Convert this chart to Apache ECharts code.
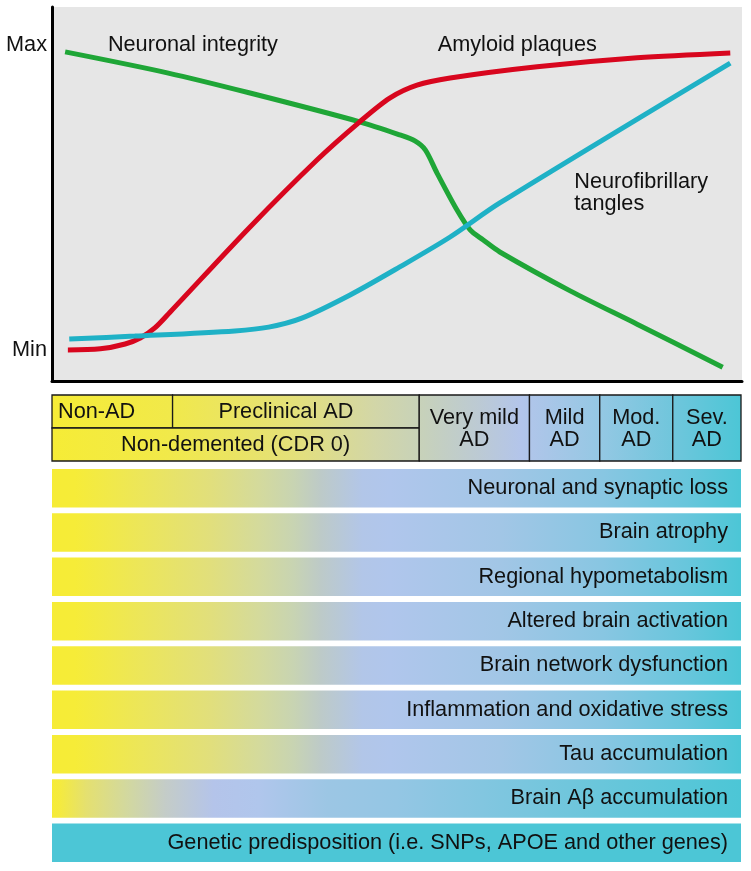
<!DOCTYPE html>
<html><head><meta charset="utf-8">
<script src="https://cdn.jsdelivr.net/npm/echarts@6/dist/echarts.min.js"></script>
<style>html,body{margin:0;padding:0;background:#fff}#c{width:751px;height:871px}</style>
</head><body><div id="c"></div>
<script>
// ---- Curves (x: disease course 0..100, y: Min..Max 0..100)
const neuronalX = [1.9, 16.7, 28.7, 44.6, 50.4, 52.6, 54.1, 55.8, 58.7, 60.6, 62.5, 64.9, 75.1, 84.8, 97.2];
const neuronalY = [88.0, 82.4, 77.0, 69.3, 65.8, 64.2, 61.8, 55.6, 45.7, 40.4, 37.7, 34.5, 24.1, 15.2, 3.7];
const amyloidX = [2.3, 7.0, 10.6, 12.8, 14.9, 17.1, 28.7, 38.4, 44.6, 49.0, 52.9, 57.7, 70.3, 84.8, 98.3];
const amyloidY = [8.3, 8.6, 9.9, 11.5, 14.2, 18.4, 41.2, 59.1, 69.3, 75.7, 79.1, 81.0, 84.0, 86.4, 87.7];
const tanglesX = [2.5, 12.0, 26.5, 31.4, 36.2, 43.2, 50.4, 57.7, 64.9, 98.3];
const tanglesY = [11.2, 12.0, 13.4, 14.4, 16.8, 23.0, 30.5, 38.5, 47.6, 85.0];
const yTickValues = [8.4, 89.8];
const yTickLabels = ['Min', 'Max'];
const curveNames = ['Neuronal integrity', 'Amyloid plaques', 'Neurofibrillary\ntangles'];
const curveLabelX = [8.1, 55.9, 75.7];
const curveLabelY = [89.8, 89.8, 50.3];

// ---- Clinical stages table (x span 0..100, rows 0..2)
const stageLabels = ['Non-AD', 'Preclinical AD', 'Non-demented (CDR 0)', 'Very mild\nAD', 'Mild\nAD', 'Mod.\nAD', 'Sev.\nAD'];
const stageFrom = [0, 17.5, 0, 53.3, 69.3, 79.5, 90.1];
const stageTo = [17.5, 53.3, 53.3, 69.3, 79.5, 90.1, 100];
const stageRowFrom = [0, 0, 1, 0, 0, 0, 0];
const stageRowTo = [1, 1, 2, 2, 2, 2, 2];

// ---- Pathological processes
const processLabels = ['Neuronal and synaptic loss', 'Brain atrophy', 'Regional hypometabolism', 'Altered brain activation', 'Brain network dysfunction', 'Inflammation and oxidative stress', 'Tau accumulation', 'Brain A\u03b2 accumulation', 'Genetic predisposition (i.e. SNPs, APOE and other genes)'];
const processExtent = [100, 100, 100, 100, 100, 100, 100, 100, 100];
const processOnset = ['late', 'late', 'late', 'late', 'late', 'late', 'late', 'early', 'constant'];

// ---- styles
const FONT = '"Liberation Sans", Arial, Helvetica, sans-serif';
const lateStops = [
  [0, '#f6ec36'], [0.033, '#f6ec38'], [0.13, '#ece65a'], [0.23, '#e1df7c'], [0.30, '#d4da9c'],
  [0.35, '#c8d4b2'], [0.39, '#bdcac8'], [0.45, '#b2c6e8'], [0.49, '#b0c6ec'], [0.65, '#a2c6e6'],
  [0.80, '#88c6e2'], [0.92, '#68c6dc'], [1, '#4cc6d6']];
const earlyStops = [
  [0, '#f6ec36'], [0.012, '#f4ea40'], [0.05, '#e4e070'], [0.11, '#d2d8a0'], [0.165, '#c4ccc8'],
  [0.235, '#b4c4ea'], [0.30, '#b0c6ec'], [0.40, '#9cc6e4'], [0.50, '#94c6e4'], [0.75, '#70c6dc'], [1, '#4cc6d6']];
const tableStops = [
  [0, '#f6ec36'], [0.17, '#f1e94a'], [0.35, '#e4e07a'], [0.47, '#d2d6a8'], [0.53, '#c8d2b8'],
  [0.62, '#bccad4'], [0.68, '#b3c5ea'], [0.79, '#96c8e4'], [0.90, '#70c6dc'], [1, '#4cc6d6']];
const stageTextAlign = ['left', 'center', 'center', 'center', 'center', 'center', 'center'];
const stageTextShift = [0, -10, 0, 0, 0, 0, 0];

function barColor(kind) {
  if (kind === 'constant') return '#4cc6d6';
  const stops = (kind === 'early' ? earlyStops : lateStops).map(s => ({offset: s[0], color: s[1]}));
  return new echarts.graphic.LinearGradient(0, 0, 1, 0, stops);
}
const zip = (xs, ys) => xs.map((x, i) => [x, ys[i]]);

const chart = echarts.init(document.getElementById('c'), null, {renderer: 'canvas'});
const curveColors = ['#1fa637', '#d8061e', '#1fb1c6'];
const curveData = [zip(neuronalX, neuronalY), zip(amyloidX, amyloidY), zip(tanglesX, tanglesY)];

const lineSeries = curveData.map((d, k) => ({
  type: 'line', xAxisIndex: 0, yAxisIndex: 0, data: d, smooth: 0.3, showSymbol: false,
  lineStyle: {color: curveColors[k], width: 5}, z: 3 + k,
  markPoint: {
    symbol: 'circle', symbolSize: 0, silent: true,
    data: [{coord: [curveLabelX[k], curveLabelY[k]], value: curveNames[k]}],
    label: {show: true, position: 'right', distance: 0, formatter: curveNames[k],
      fontFamily: FONT, fontSize: 21.7, color: '#111', lineHeight: 22, align: 'left'}
  }
}));

const tableData = stageLabels.map((n, i) => [stageFrom[i], stageTo[i], stageRowFrom[i], stageRowTo[i]]);

chart.setOption({
  animation: false,
  grid: [
    {left: 52, right: 9, top: 7, height: 374, show: true, backgroundColor: '#e6e6e6', borderWidth: 0},
    {left: 52, right: 10, top: 395, height: 66},
    {left: 52, right: 10, top: 466, height: 399}
  ],
  xAxis: [
    {gridIndex: 0, type: 'value', min: 0, max: 100, axisLine: {show: true, lineStyle: {color: '#000', width: 3}},
      axisTick: {show: false}, axisLabel: {show: false}, splitLine: {show: false}},
    {gridIndex: 1, type: 'value', min: 0, max: 100, show: false},
    {gridIndex: 2, type: 'value', min: 0, max: 100, show: false}
  ],
  yAxis: [
    {gridIndex: 0, type: 'value', min: 0, max: 100, axisLine: {show: true, lineStyle: {color: '#000', width: 3}},
      axisTick: {show: false}, splitLine: {show: false},
      axisLabel: {show: true, customValues: yTickValues, margin: 5, fontFamily: FONT, fontSize: 21.7, color: '#111',
        formatter: v => yTickLabels[yTickValues.indexOf(v)] || ''}},
    {gridIndex: 1, type: 'value', min: 0, max: 2, inverse: true, show: false},
    {gridIndex: 2, type: 'category', data: processLabels, inverse: true, show: false}
  ],
  series: lineSeries.concat([
    {
      type: 'custom', xAxisIndex: 1, yAxisIndex: 1, data: tableData, clip: false,
      encode: {x: [0, 1], y: [2, 3]},
      renderItem: function (params, api) {
        const i = params.dataIndex;
        const p0 = api.coord([api.value(0), api.value(2)]);
        const p1 = api.coord([api.value(1), api.value(3)]);
        const a = api.coord([0, 0]), b = api.coord([100, 0]);
        const x = p0[0], y = Math.min(p0[1], p1[1]), w = p1[0] - p0[0], h = Math.abs(p1[1] - p0[1]);
        const grad = new echarts.graphic.LinearGradient(a[0], 0, b[0], 0,
          tableStops.map(s => ({offset: s[0], color: s[1]})), true);
        return {type: 'group', children: [
          {type: 'rect', shape: {x: x, y: y, width: w, height: h}, style: {fill: grad, stroke: '#1a1a1a', lineWidth: 1.3}},
          {type: 'text', style: {text: stageLabels[i],
            x: (stageTextAlign[i] === 'left' ? x + 6 : x + w / 2) + stageTextShift[i], y: y + h / 2 + 1,
            align: stageTextAlign[i], verticalAlign: 'middle', font: '21.7px ' + FONT, fill: '#111', lineHeight: 22}}
        ]};
      }
    },
    {
      type: 'bar', xAxisIndex: 2, yAxisIndex: 2, barWidth: 38.5,
      data: processExtent.map((v, i) => ({value: v, itemStyle: {color: barColor(processOnset[i])}})),
      label: {show: true, position: 'insideRight', distance: 13, formatter: '{b}', fontFamily: FONT, fontSize: 21.7, color: '#111'}
    }
  ])
});
</script></body></html>
